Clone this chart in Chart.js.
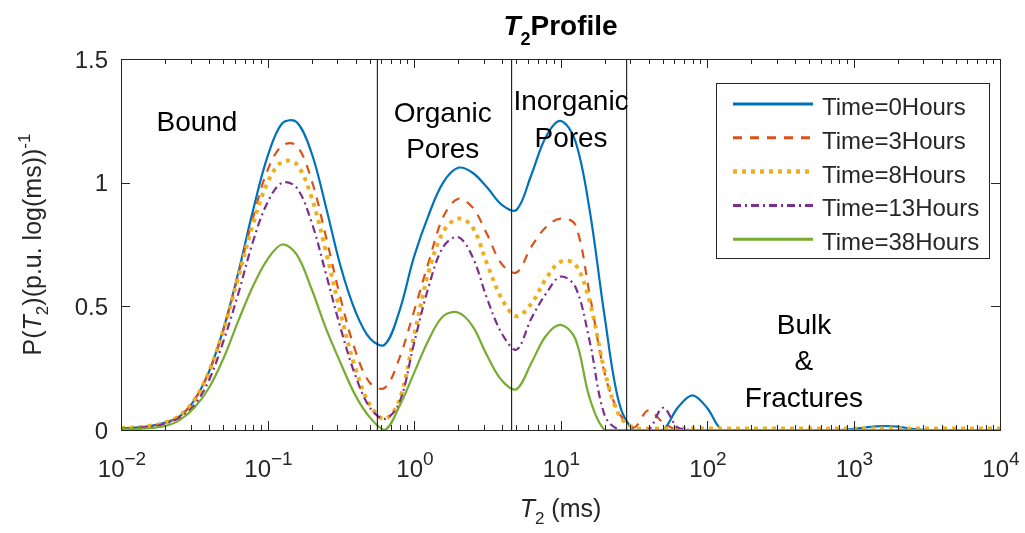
<!DOCTYPE html>
<html>
<head>
<meta charset="utf-8">
<script src="https://cdn.jsdelivr.net/npm/chart.js@4"></script>
<style>
  html, body { margin: 0; padding: 0; background: #fff; }
  #wrap { width: 1025px; height: 533px; }
</style>
</head>
<body>
<div id="wrap"><canvas id="t2Chart" width="1025" height="533"></canvas></div>
<script>
// T2 axis (ms), log grid, 10 points per decade
const t2 = [
  0.01, 0.0126, 0.0158, 0.02, 0.0251, 0.0316, 0.0398, 0.0501, 0.0631, 0.0794,
  0.1, 0.126, 0.158, 0.2, 0.251, 0.316, 0.398, 0.501, 0.631, 0.794,
  1, 1.26, 1.58, 2, 2.51, 3.16, 3.98, 5.01, 6.31, 7.94,
  10, 12.6, 15.8, 20, 25.1, 31.6, 39.8, 50.1, 63.1, 79.4,
  100, 126, 158, 200, 251, 316, 398, 501, 631, 794,
  1000, 1260, 1580, 2000, 2510, 3160, 3980, 5010, 6310, 7940, 10000
];

const time0 = [
  0.007, 0.010, 0.016, 0.030, 0.055, 0.12, 0.235, 0.41, 0.635, 0.885,
  1.105, 1.24, 1.245, 1.12, 0.90, 0.66, 0.48, 0.37, 0.345, 0.48,
  0.70, 0.87, 1.00, 1.06, 1.04, 0.98, 0.91, 0.89, 1.03, 1.185,
  1.25, 1.17, 0.89, 0.46, 0.11, 0, 0, 0, 0.09, 0.14,
  0.09, 0, 0, 0, 0, 0, 0, 0, 0, 0,
  0.004, 0.012, 0.016, 0.014, 0.005, 0, 0, 0, 0, 0, 0
];
const time3 = [
  0.006, 0.009, 0.015, 0.028, 0.055, 0.12, 0.235, 0.405, 0.625, 0.855,
  1.05, 1.15, 1.15, 1.01, 0.78, 0.53, 0.32, 0.19, 0.17, 0.29,
  0.48, 0.68, 0.86, 0.935, 0.90, 0.79, 0.67, 0.637, 0.74, 0.82,
  0.855, 0.83, 0.55, 0.23, 0.07, 0.01, 0.08, 0.03, 0, 0,
  0, 0, 0, 0, 0, 0, 0, 0, 0, 0,
  0, 0, 0, 0, 0, 0, 0, 0, 0, 0, 0
];
const time8 = [
  0.008, 0.011, 0.017, 0.03, 0.058, 0.12, 0.235, 0.405, 0.615, 0.83,
  1.00, 1.085, 1.075, 0.94, 0.72, 0.47, 0.25, 0.10, 0.045, 0.12,
  0.38, 0.64, 0.80, 0.855, 0.82, 0.67, 0.53, 0.46, 0.51, 0.61,
  0.68, 0.67, 0.52, 0.24, 0.06, 0.01, 0.006, 0.006, 0.006, 0.006,
  0.006, 0.006, 0.006, 0.006, 0.006, 0.006, 0.006, 0.006, 0.006, 0.006,
  0.006, 0.006, 0.006, 0.006, 0.006, 0.006, 0.006, 0.006, 0.006, 0.006, 0.006
];
const time13 = [
  0.005, 0.008, 0.013, 0.025, 0.05, 0.10, 0.20, 0.36, 0.55, 0.76,
  0.92, 1.0, 0.98, 0.84, 0.63, 0.41, 0.22, 0.09, 0.045, 0.11,
  0.35, 0.58, 0.74, 0.78, 0.70, 0.53, 0.39, 0.325, 0.45, 0.55,
  0.62, 0.58, 0.36, 0.06, 0, 0, 0, 0.09, 0.01, 0,
  0, 0, 0, 0, 0, 0, 0, 0, 0, 0,
  0, 0, 0, 0, 0, 0, 0, 0, 0, 0, 0
];
const time38 = [
  0.003, 0.004, 0.007, 0.016, 0.04, 0.09, 0.17, 0.29, 0.44, 0.58,
  0.69, 0.75, 0.71, 0.57, 0.41, 0.27, 0.14, 0.05, 0, 0.095,
  0.23, 0.365, 0.46, 0.475, 0.42, 0.30, 0.20, 0.165, 0.27, 0.38,
  0.425, 0.37, 0.13, 0, 0, 0, 0, 0, 0, 0,
  0, 0, 0, 0, 0, 0, 0, 0, 0, 0,
  0, 0, 0, 0, 0, 0, 0, 0, 0, 0, 0
];

const seriesNames = ['Time=0Hours', 'Time=3Hours', 'Time=8Hours', 'Time=13Hours', 'Time=38Hours'];
const seriesValues = [time0, time3, time8, time13, time38];

// region boundaries (ms)
const boundaries = [0.562, 4.64, 28.3];

// region labels: lines of text, anchor at T2 (ms) and P value of each baseline
const regionText = [
  { lines: ['Bound'], x: 0.033, y: [1.207] },
  { lines: ['Organic', 'Pores'], x: 1.57, y: [1.247, 1.099] },
  { lines: ['Inorganic', 'Pores'], x: 11.8, y: [1.294, 1.146] },
  { lines: ['Bulk', '&', 'Fractures'], x: 459, y: [0.389, 0.243, 0.095] }
];

const xTickExp = [-2, -1, 0, 1, 2, 3, 4];
const yTicks = [0, 0.5, 1, 1.5];
const yTickLabels = ['0', '0.5', '1', '1.5'];

const FONT = '"Liberation Sans", Arial, Helvetica, sans-serif';
const AXIS = '#262626';
const styles = [
  { color: '#0072BD', width: 2.2, dash: [] },
  { color: '#D95319', width: 2.2, dash: [9, 8] },
  { color: '#EDB120', width: 4, dash: [4, 5] },
  { color: '#7E2F8E', width: 2.2, dash: [8, 4, 2, 4] },
  { color: '#77AC30', width: 2.2, dash: [] }
];

// rich text: segments drawn side by side, centered on cx
function richText(ctx, segs, cx, base) {
  let total = 0;
  segs.forEach(s => { ctx.font = s.font; total += ctx.measureText(s.t).width; });
  let x = cx - total / 2;
  ctx.textAlign = 'left';
  ctx.textBaseline = 'alphabetic';
  segs.forEach(s => {
    ctx.font = s.font;
    ctx.fillText(s.t, x, base + (s.dy || 0));
    x += ctx.measureText(s.t).width;
  });
}

const decorPlugin = {
  id: 'decor',
  afterDatasetsDraw(chart) {
    const ctx = chart.ctx;
    const a = chart.chartArea;
    const xs = chart.scales.x, ys = chart.scales.y;
    ctx.save();

    // box
    ctx.strokeStyle = AXIS;
    ctx.lineWidth = 1;
    ctx.strokeRect(Math.round(a.left) + 0.5, Math.round(a.top) + 0.5,
      Math.round(a.right - a.left), Math.round(a.bottom - a.top));

    // x ticks (inward, top and bottom), with minor ticks
    ctx.beginPath();
    for (let e = -2; e <= 4; e++) {
      for (let k = 1; k <= 9; k++) {
        if (e === 4 && k > 1) break;
        const px = Math.round(xs.getPixelForValue(k * Math.pow(10, e))) + 0.5;
        const len = k === 1 ? 9 : 5;
        ctx.moveTo(px, a.bottom); ctx.lineTo(px, a.bottom - len);
        ctx.moveTo(px, a.top); ctx.lineTo(px, a.top + len);
      }
    }
    yTicks.forEach(v => {
      const py = Math.round(ys.getPixelForValue(v)) + 0.5;
      ctx.moveTo(a.left, py); ctx.lineTo(a.left + 9, py);
      ctx.moveTo(a.right, py); ctx.lineTo(a.right - 9, py);
    });
    ctx.stroke();

    // tick labels
    ctx.fillStyle = AXIS;
    ctx.font = '24px ' + FONT;
    ctx.textAlign = 'right';
    ctx.textBaseline = 'middle';
    yTicks.forEach((v, i) => {
      ctx.fillText(yTickLabels[i], a.left - 13, ys.getPixelForValue(v) + 2);
    });
    xTickExp.forEach(e => {
      const px = xs.getPixelForValue(Math.pow(10, e));
      richText(ctx, [
        { t: '10', font: '24px ' + FONT },
        { t: (e < 0 ? '\u2212' + (-e) : String(e)), font: '19px ' + FONT, dy: -12 }
      ], px + 1, a.bottom + 47);
    });

    // axis labels
    richText(ctx, [
      { t: 'T', font: 'italic 25px ' + FONT },
      { t: '2', font: '17px ' + FONT, dy: 7 },
      { t: ' (ms)', font: '25px ' + FONT }
    ], (a.left + a.right) / 2, a.bottom + 87);

    ctx.save();
    ctx.translate(41, (a.top + a.bottom) / 2);
    ctx.rotate(-Math.PI / 2);
    richText(ctx, [
      { t: 'P(', font: '25px ' + FONT },
      { t: 'T', font: 'italic 25px ' + FONT },
      { t: '2', font: '17px ' + FONT, dy: 7 },
      { t: ')(p.u. log(ms))', font: '25px ' + FONT },
      { t: '-1', font: '17px ' + FONT, dy: -11 }
    ], 0, 0);
    ctx.restore();

    // title
    ctx.fillStyle = '#000';
    richText(ctx, [
      { t: 'T', font: 'italic bold 28px ' + FONT },
      { t: '2', font: 'bold 18px ' + FONT, dy: 10 },
      { t: 'Profile', font: 'bold 28px ' + FONT }
    ], (a.left + a.right) / 2, 35);

    // region labels
    ctx.fillStyle = '#000';
    regionText.forEach(r => {
      const px = xs.getPixelForValue(r.x);
      r.lines.forEach((ln, i) => {
        richText(ctx, [{ t: ln, font: '28px ' + FONT }], px, ys.getPixelForValue(r.y[i]));
      });
    });

    // legend
    const lx = 716.5, ly = 83.5, lw = 273, lh = 175;
    ctx.fillStyle = '#fff';
    ctx.fillRect(lx, ly, lw, lh);
    ctx.strokeStyle = AXIS;
    ctx.lineWidth = 1;
    ctx.setLineDash([]);
    ctx.strokeRect(lx, ly, lw, lh);
    seriesNames.forEach((name, i) => {
      const yy = 104 + i * 33.8;
      const st = styles[i];
      ctx.beginPath();
      ctx.strokeStyle = st.color;
      ctx.lineWidth = st.width === 4 ? 4.5 : 3;
      ctx.setLineDash(st.dash);
      ctx.moveTo(733, yy); ctx.lineTo(813, yy);
      ctx.stroke();
      ctx.setLineDash([]);
      ctx.fillStyle = AXIS;
      ctx.font = '24px ' + FONT;
      ctx.textAlign = 'left';
      ctx.textBaseline = 'alphabetic';
      ctx.fillText(name, 822, yy + 11);
    });

    ctx.restore();
  }
};

const datasets = seriesValues.map((vals, i) => ({
  label: seriesNames[i],
  data: t2.map((x, j) => ({ x: x, y: vals[j] })),
  borderColor: styles[i].color,
  borderWidth: styles[i].width,
  borderDash: styles[i].dash,
  borderCapStyle: 'butt',
  pointRadius: 0,
  fill: false,
  tension: 0.35,
  order: 5 - i + 1
}));
boundaries.forEach(b => {
  datasets.push({
    label: '',
    data: [{ x: b, y: 0 }, { x: b, y: 1.5 }],
    borderColor: '#000',
    borderWidth: 1,
    pointRadius: 0,
    fill: false,
    order: 0
  });
});

new Chart(document.getElementById('t2Chart').getContext('2d'), {
  type: 'line',
  data: { datasets },
  options: {
    responsive: false,
    animation: false,
    devicePixelRatio: 1,
    layout: { padding: { top: 59, right: 25, left: 0, bottom: 0 } },
    plugins: { legend: { display: false }, title: { display: false }, tooltip: { enabled: false } },
    scales: {
      x: {
        type: 'logarithmic', min: 0.01, max: 10000,
        ticks: { display: false }, grid: { display: false }, border: { display: false },
        afterFit(s) { s.height = 103; }
      },
      y: {
        min: 0, max: 1.5,
        ticks: { display: false }, grid: { display: false }, border: { display: false },
        afterFit(s) { s.width = 121; }
      }
    }
  },
  plugins: [decorPlugin]
});
</script>
</body>
</html>
